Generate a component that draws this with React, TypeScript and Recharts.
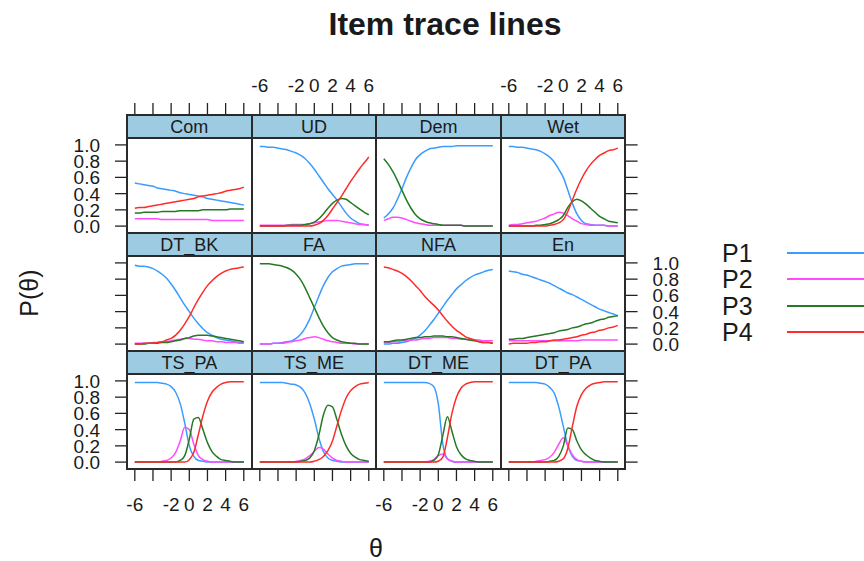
import React from 'react';
import { LineChart, Line, XAxis, YAxis } from 'recharts';

const THETA = [-6, -5.5, -5, -4.5, -4, -3.5, -3, -2.5, -2, -1.5, -1, -0.5, 0, 0.5, 1, 1.5, 2, 2.5, 3, 3.5, 4, 4.5, 5, 5.5, 6];
const THETA_TICKS = [-6, -4, -2, 0, 2, 4, 6];
// lattice drops the -4 label, it would run into its neighbours
const THETA_LABELS = [-6, -2, 0, 2, 4, 6];
const P_TICKS = [0, 0.2, 0.4, 0.6, 0.8, 1];

const Com = {
  P1: [0.53, 0.52, 0.51, 0.50, 0.49, 0.47, 0.46, 0.45, 0.44, 0.43, 0.41, 0.40, 0.39, 0.38, 0.37, 0.36, 0.34, 0.33, 0.32, 0.31, 0.30, 0.29, 0.28, 0.27, 0.26],
  P2: [0.09, 0.09, 0.09, 0.09, 0.09, 0.09, 0.08, 0.08, 0.08, 0.08, 0.08, 0.08, 0.08, 0.08, 0.08, 0.08, 0.08, 0.07, 0.07, 0.07, 0.07, 0.07, 0.07, 0.07, 0.07],
  P3: [0.16, 0.16, 0.17, 0.17, 0.17, 0.17, 0.18, 0.18, 0.18, 0.18, 0.19, 0.19, 0.19, 0.19, 0.19, 0.20, 0.20, 0.20, 0.20, 0.20, 0.20, 0.21, 0.21, 0.21, 0.21],
  P4: [0.22, 0.23, 0.23, 0.24, 0.25, 0.26, 0.27, 0.28, 0.29, 0.30, 0.31, 0.32, 0.33, 0.34, 0.36, 0.37, 0.38, 0.39, 0.40, 0.41, 0.43, 0.44, 0.45, 0.46, 0.48],
};
const UD = {
  P1: [0.98, 0.98, 0.97, 0.97, 0.96, 0.95, 0.94, 0.92, 0.90, 0.87, 0.83, 0.77, 0.70, 0.62, 0.54, 0.46, 0.39, 0.32, 0.24, 0.16, 0.10, 0.06, 0.03, 0.02, 0.01],
  P2: [0.01, 0.01, 0.01, 0.01, 0.01, 0.01, 0.01, 0.02, 0.02, 0.02, 0.02, 0.03, 0.04, 0.05, 0.06, 0.07, 0.07, 0.07, 0.06, 0.05, 0.04, 0.03, 0.02, 0.02, 0.01],
  P3: [0, 0, 0, 0, 0, 0, 0.01, 0.01, 0.01, 0.01, 0.02, 0.03, 0.05, 0.09, 0.15, 0.22, 0.28, 0.32, 0.34, 0.33, 0.29, 0.25, 0.21, 0.17, 0.14],
  P4: [0, 0, 0, 0, 0, 0, 0, 0, 0, 0, 0, 0, 0.01, 0.03, 0.07, 0.13, 0.21, 0.29, 0.37, 0.46, 0.55, 0.63, 0.71, 0.78, 0.85],
};
const Dem = {
  P1: [0.10, 0.15, 0.22, 0.33, 0.46, 0.60, 0.72, 0.82, 0.88, 0.92, 0.95, 0.96, 0.97, 0.98, 0.98, 0.98, 0.99, 0.99, 0.99, 0.99, 0.99, 0.99, 0.99, 0.99, 0.99],
  P2: [0.07, 0.09, 0.11, 0.11, 0.10, 0.08, 0.06, 0.04, 0.03, 0.02, 0.01, 0.01, 0.01, 0.01, 0.01, 0.01, 0.01, 0.01, 0, 0, 0, 0, 0, 0, 0],
  P3: [0.83, 0.76, 0.67, 0.56, 0.44, 0.32, 0.22, 0.14, 0.09, 0.06, 0.04, 0.03, 0.02, 0.01, 0.01, 0.01, 0.01, 0.01, 0, 0, 0, 0, 0, 0, 0],
};
const Wet = {
  P1: [0.98, 0.98, 0.97, 0.97, 0.96, 0.95, 0.94, 0.92, 0.89, 0.85, 0.79, 0.70, 0.60, 0.44, 0.28, 0.15, 0.07, 0.03, 0.02, 0.01, 0.01, 0.01, 0, 0, 0],
  P2: [0.01, 0.02, 0.02, 0.03, 0.04, 0.05, 0.06, 0.08, 0.10, 0.13, 0.15, 0.17, 0.16, 0.13, 0.09, 0.06, 0.03, 0.02, 0.01, 0.01, 0.01, 0.01, 0, 0, 0],
  P3: [0, 0, 0, 0, 0, 0, 0.01, 0.01, 0.02, 0.03, 0.05, 0.08, 0.13, 0.23, 0.30, 0.33, 0.31, 0.27, 0.22, 0.17, 0.12, 0.09, 0.06, 0.05, 0.04],
  P4: [0, 0, 0, 0, 0, 0, 0, 0, 0, 0.01, 0.02, 0.04, 0.08, 0.18, 0.32, 0.46, 0.58, 0.68, 0.76, 0.82, 0.87, 0.90, 0.93, 0.94, 0.96],
};
const DT_BK = {
  P1: [0.97, 0.96, 0.96, 0.95, 0.93, 0.90, 0.86, 0.81, 0.74, 0.66, 0.57, 0.48, 0.40, 0.32, 0.25, 0.19, 0.14, 0.11, 0.08, 0.06, 0.05, 0.04, 0.03, 0.02, 0.02],
  P2: [0.01, 0.01, 0.01, 0.01, 0.02, 0.02, 0.03, 0.03, 0.04, 0.05, 0.06, 0.07, 0.07, 0.06, 0.06, 0.05, 0.04, 0.04, 0.03, 0.03, 0.02, 0.02, 0.02, 0.01, 0.01],
  P3: [0, 0, 0, 0.01, 0.01, 0.01, 0.02, 0.02, 0.03, 0.04, 0.05, 0.07, 0.08, 0.10, 0.11, 0.11, 0.11, 0.10, 0.09, 0.08, 0.07, 0.06, 0.05, 0.04, 0.03],
  P4: [0, 0, 0.01, 0.01, 0.01, 0.02, 0.03, 0.05, 0.07, 0.11, 0.17, 0.25, 0.34, 0.45, 0.55, 0.64, 0.72, 0.78, 0.83, 0.87, 0.90, 0.92, 0.93, 0.94, 0.95],
};
const FA = {
  P1: [0, 0, 0, 0.01, 0.01, 0.02, 0.03, 0.04, 0.07, 0.12, 0.20, 0.31, 0.45, 0.59, 0.72, 0.82, 0.89, 0.93, 0.96, 0.97, 0.98, 0.99, 0.99, 0.99, 0.99],
  P2: [0, 0, 0, 0.01, 0.01, 0.01, 0.02, 0.03, 0.04, 0.05, 0.07, 0.08, 0.09, 0.08, 0.06, 0.04, 0.03, 0.02, 0.01, 0.01, 0.01, 0, 0, 0, 0],
  P3: [0.99, 0.99, 0.99, 0.98, 0.97, 0.96, 0.94, 0.91, 0.86, 0.79, 0.69, 0.57, 0.45, 0.33, 0.22, 0.14, 0.08, 0.05, 0.03, 0.02, 0.01, 0.01, 0, 0, 0],
};
const NFA = {
  P1: [0, 0, 0.01, 0.01, 0.02, 0.03, 0.05, 0.07, 0.11, 0.16, 0.23, 0.30, 0.38, 0.46, 0.54, 0.61, 0.68, 0.73, 0.78, 0.82, 0.85, 0.87, 0.89, 0.91, 0.92],
  P2: [0.02, 0.02, 0.03, 0.03, 0.04, 0.04, 0.05, 0.05, 0.06, 0.07, 0.07, 0.08, 0.08, 0.08, 0.08, 0.07, 0.07, 0.06, 0.06, 0.05, 0.05, 0.05, 0.04, 0.04, 0.04],
  P3: [0.03, 0.03, 0.04, 0.05, 0.05, 0.06, 0.07, 0.08, 0.08, 0.09, 0.09, 0.10, 0.10, 0.10, 0.09, 0.09, 0.08, 0.07, 0.06, 0.05, 0.04, 0.03, 0.02, 0.02, 0.01],
  P4: [0.95, 0.94, 0.92, 0.90, 0.87, 0.83, 0.78, 0.72, 0.66, 0.59, 0.53, 0.48, 0.42, 0.35, 0.28, 0.22, 0.17, 0.13, 0.09, 0.07, 0.05, 0.03, 0.02, 0.02, 0.01],
};
const En = {
  P1: [0.90, 0.89, 0.88, 0.86, 0.85, 0.83, 0.81, 0.79, 0.77, 0.75, 0.72, 0.69, 0.66, 0.63, 0.61, 0.58, 0.55, 0.52, 0.49, 0.46, 0.43, 0.41, 0.39, 0.37, 0.35],
  P2: [0.04, 0.04, 0.04, 0.04, 0.04, 0.04, 0.04, 0.04, 0.04, 0.04, 0.04, 0.04, 0.04, 0.04, 0.04, 0.04, 0.05, 0.05, 0.05, 0.05, 0.05, 0.05, 0.05, 0.05, 0.05],
  P3: [0.06, 0.06, 0.07, 0.07, 0.08, 0.09, 0.10, 0.11, 0.12, 0.13, 0.14, 0.16, 0.17, 0.18, 0.20, 0.21, 0.23, 0.25, 0.26, 0.28, 0.30, 0.31, 0.33, 0.34, 0.35],
  P4: [0, 0.01, 0.01, 0.01, 0.01, 0.02, 0.02, 0.03, 0.03, 0.04, 0.05, 0.05, 0.06, 0.07, 0.08, 0.09, 0.11, 0.12, 0.14, 0.15, 0.17, 0.18, 0.20, 0.21, 0.23],
};
const TS_PA = {
  P1: [0.98, 0.98, 0.98, 0.98, 0.98, 0.98, 0.97, 0.96, 0.93, 0.86, 0.72, 0.48, 0.20, 0.07, 0.02, 0.01, 0, 0, 0, 0, 0, 0, 0, 0, 0],
  P2: [0, 0, 0, 0, 0, 0, 0.01, 0.02, 0.05, 0.12, 0.26, 0.43, 0.40, 0.22, 0.08, 0.03, 0.01, 0, 0, 0, 0, 0, 0, 0, 0],
  P3: [0, 0, 0, 0, 0, 0, 0, 0, 0, 0, 0.02, 0.08, 0.28, 0.53, 0.55, 0.40, 0.24, 0.13, 0.07, 0.03, 0.02, 0.01, 0, 0, 0],
  P4: [0, 0, 0, 0, 0, 0, 0, 0, 0, 0, 0, 0, 0.03, 0.12, 0.34, 0.57, 0.75, 0.86, 0.92, 0.96, 0.98, 0.99, 0.99, 0.99, 0.99],
};
const TS_ME = {
  P1: [0.98, 0.98, 0.98, 0.98, 0.98, 0.98, 0.97, 0.96, 0.95, 0.92, 0.85, 0.72, 0.53, 0.30, 0.13, 0.05, 0.02, 0.01, 0, 0, 0, 0, 0, 0, 0],
  P2: [0, 0, 0, 0, 0, 0, 0, 0, 0.01, 0.02, 0.04, 0.08, 0.13, 0.18, 0.16, 0.10, 0.05, 0.02, 0.01, 0, 0, 0, 0, 0, 0],
  P3: [0, 0, 0, 0, 0, 0, 0, 0, 0, 0.01, 0.02, 0.05, 0.14, 0.33, 0.58, 0.70, 0.68, 0.52, 0.34, 0.20, 0.11, 0.06, 0.03, 0.02, 0.01],
  P4: [0, 0, 0, 0, 0, 0, 0, 0, 0, 0, 0, 0, 0.01, 0.03, 0.07, 0.14, 0.26, 0.45, 0.64, 0.79, 0.88, 0.93, 0.96, 0.97, 0.98],
};
const DT_ME = {
  P1: [0.98, 0.98, 0.98, 0.98, 0.98, 0.98, 0.98, 0.98, 0.98, 0.98, 0.97, 0.93, 0.72, 0.22, 0.04, 0.01, 0, 0, 0, 0, 0, 0, 0, 0, 0],
  P2: [0, 0, 0, 0, 0, 0, 0, 0, 0, 0, 0.01, 0.03, 0.08, 0.10, 0.04, 0.01, 0, 0, 0, 0, 0, 0, 0, 0, 0],
  P3: [0, 0, 0, 0, 0, 0, 0, 0, 0, 0, 0, 0.02, 0.09, 0.33, 0.56, 0.38, 0.19, 0.09, 0.04, 0.02, 0.01, 0, 0, 0, 0],
  P4: [0, 0, 0, 0, 0, 0, 0, 0, 0, 0, 0, 0, 0.01, 0.06, 0.30, 0.60, 0.80, 0.91, 0.96, 0.98, 0.99, 0.99, 0.99, 0.99, 0.99],
};
const DT_PA = {
  P1: [0.98, 0.98, 0.98, 0.98, 0.98, 0.98, 0.98, 0.97, 0.96, 0.92, 0.85, 0.68, 0.44, 0.20, 0.07, 0.02, 0.01, 0, 0, 0, 0, 0, 0, 0, 0],
  P2: [0, 0, 0, 0, 0, 0, 0.01, 0.02, 0.03, 0.06, 0.12, 0.22, 0.30, 0.20, 0.09, 0.03, 0.01, 0, 0, 0, 0, 0, 0, 0, 0],
  P3: [0, 0, 0, 0, 0, 0, 0, 0, 0, 0.01, 0.02, 0.07, 0.20, 0.42, 0.40, 0.26, 0.15, 0.09, 0.05, 0.02, 0.01, 0, 0, 0, 0],
  P4: [0, 0, 0, 0, 0, 0, 0, 0, 0, 0, 0, 0.01, 0.04, 0.17, 0.44, 0.69, 0.83, 0.91, 0.95, 0.97, 0.98, 0.99, 0.99, 0.99, 0.99],
};

// panels in lattice order: left to right, top row first
const ITEMS: { name: string; p: Record<string, number[]> }[] = [
  { name: 'Com', p: Com },
  { name: 'UD', p: UD },
  { name: 'Dem', p: Dem },
  { name: 'Wet', p: Wet },
  { name: 'DT_BK', p: DT_BK },
  { name: 'FA', p: FA },
  { name: 'NFA', p: NFA },
  { name: 'En', p: En },
  { name: 'TS_PA', p: TS_PA },
  { name: 'TS_ME', p: TS_ME },
  { name: 'DT_ME', p: DT_ME },
  { name: 'DT_PA', p: DT_PA },
];

const SERIES = [
  { key: 'P1', color: '#3b9cff' },
  { key: 'P2', color: '#ff4cff' },
  { key: 'P3', color: '#237a23' },
  { key: 'P4', color: '#ff2a2a' },
];

const FONT = '"Liberation Sans", Arial, Helvetica, sans-serif';
const INK = '#1a1a1a';
const STRIP_BG = '#9dcbe2';

const GRID_LEFT = 127;
const PANEL_W = 124.6;
const GRID_TOP = 115;
const ROW_H = 118;
const STRIP_H = 23;
const PLOT_H = ROW_H - STRIP_H;
const AX = 70; // room for axes around every panel
const TICK_LEN = 12;

const X_DOMAIN = [-6.86, 6.86];
const Y_DOMAIN = [-0.085, 1.085];

function topTick(p: any, row: number, col: number) {
  if (row !== 0) return <g />;
  const y0 = p.y - STRIP_H;
  const v = p.payload.value;
  return (
    <g>
      <line x1={p.x} x2={p.x} y1={y0} y2={y0 - TICK_LEN} stroke="#222" strokeWidth={1.3} />
      {col % 2 === 1 && THETA_LABELS.includes(v) && (
        <text x={p.x} y={y0 - 23} textAnchor="middle" fontFamily={FONT} fontSize={19} fill={INK}>{v}</text>
      )}
    </g>
  );
}

function bottomTick(p: any, row: number, col: number) {
  if (row !== 2) return <g />;
  const v = p.payload.value;
  return (
    <g>
      <line x1={p.x} x2={p.x} y1={p.y} y2={p.y + TICK_LEN} stroke="#222" strokeWidth={1.3} />
      {col % 2 === 0 && THETA_LABELS.includes(v) && (
        <text x={p.x} y={p.y + 42} textAnchor="middle" fontFamily={FONT} fontSize={19} fill={INK}>{v}</text>
      )}
    </g>
  );
}

function leftTick(p: any, row: number, col: number) {
  if (col !== 0) return <g />;
  const v = p.payload.value;
  return (
    <g>
      <line x1={p.x} x2={p.x - TICK_LEN} y1={p.y} y2={p.y} stroke="#222" strokeWidth={1.3} />
      {row !== 1 && (
        <text x={p.x - 27} y={p.y + 7} textAnchor="end" fontFamily={FONT} fontSize={19} fill={INK}>{v.toFixed(1)}</text>
      )}
    </g>
  );
}

function rightTick(p: any, row: number, col: number) {
  if (col !== 3) return <g />;
  const v = p.payload.value;
  return (
    <g>
      <line x1={p.x} x2={p.x + TICK_LEN} y1={p.y} y2={p.y} stroke="#222" strokeWidth={1.3} />
      {row === 1 && (
        <text x={p.x + 27} y={p.y + 7} textAnchor="start" fontFamily={FONT} fontSize={19} fill={INK}>{v.toFixed(1)}</text>
      )}
    </g>
  );
}

function Panel({ idx }: { idx: number }) {
  const item = ITEMS[idx];
  const row = Math.floor(idx / 4);
  const col = idx % 4;
  const left = GRID_LEFT + col * PANEL_W;
  const plotTop = GRID_TOP + row * ROW_H + STRIP_H;
  const present = SERIES.filter((s) => item.p[s.key]);
  const data = THETA.map((t, i) => {
    const d: Record<string, number> = { theta: t };
    present.forEach((s) => {
      d[s.key] = item.p[s.key][i];
    });
    return d;
  });
  return (
    <div style={{ position: 'absolute', left: left - AX, top: plotTop - AX }}>
      <LineChart width={PANEL_W + 2 * AX} height={PLOT_H + 2 * AX} data={data} margin={{ top: 0, right: 0, bottom: 0, left: 0 }}>
        <XAxis xAxisId="b" orientation="bottom" type="number" dataKey="theta" domain={X_DOMAIN} ticks={THETA_TICKS}
          height={AX} interval={0} axisLine={false} tickLine={false} tickSize={0} tickMargin={0} allowDataOverflow
          tick={(p: any) => bottomTick(p, row, col)} />
        <XAxis xAxisId="t" orientation="top" type="number" dataKey="theta" domain={X_DOMAIN} ticks={THETA_TICKS}
          height={AX} interval={0} axisLine={false} tickLine={false} tickSize={0} tickMargin={0} allowDataOverflow
          tick={(p: any) => topTick(p, row, col)} />
        <YAxis yAxisId="l" orientation="left" type="number" domain={Y_DOMAIN} ticks={P_TICKS}
          width={AX} interval={0} axisLine={false} tickLine={false} tickSize={0} tickMargin={0} allowDataOverflow
          tick={(p: any) => leftTick(p, row, col)} />
        <YAxis yAxisId="r" orientation="right" type="number" domain={Y_DOMAIN} ticks={P_TICKS}
          width={AX} interval={0} axisLine={false} tickLine={false} tickSize={0} tickMargin={0} allowDataOverflow
          tick={(p: any) => rightTick(p, row, col)} />
        {present.map((s) => (
          <Line key={s.key} xAxisId="b" yAxisId="l" type="monotone" dataKey={s.key} stroke={s.color}
            strokeWidth={1.5} dot={false} activeDot={false} isAnimationActive={false} />
        ))}
      </LineChart>
    </div>
  );
}

export default function App() {
  const colEdges = [0, 1, 2, 3, 4].map((c) => GRID_LEFT + c * PANEL_W);
  const rowEdges: number[] = [];
  [0, 1, 2].forEach((r) => {
    rowEdges.push(GRID_TOP + r * ROW_H, GRID_TOP + r * ROW_H + STRIP_H);
  });
  rowEdges.push(GRID_TOP + 3 * ROW_H);
  const gridBottom = GRID_TOP + 3 * ROW_H;

  return (
    <div style={{ position: 'absolute', left: 0, top: 0, width: 864, height: 561, background: '#fff', overflow: 'hidden', fontFamily: FONT, color: INK }}>
      <div style={{ position: 'absolute', left: 0, top: 4, width: 890, height: 40, lineHeight: '40px', textAlign: 'center', fontSize: 32, fontWeight: 'bold' }}>
        Item trace lines
      </div>

      {ITEMS.map((it, i) => {
        const row = Math.floor(i / 4);
        const col = i % 4;
        return (
          <div key={it.name} style={{
            position: 'absolute', left: GRID_LEFT + col * PANEL_W, top: GRID_TOP + row * ROW_H, width: PANEL_W, height: STRIP_H,
            background: STRIP_BG, display: 'flex', alignItems: 'center', justifyContent: 'center', fontSize: 18, paddingTop: 2, boxSizing: 'border-box',
          }}>
            {it.name}
          </div>
        );
      })}

      {ITEMS.map((it, i) => <Panel key={it.name} idx={i} />)}

      {colEdges.map((x, i) => (
        <div key={'v' + i} style={{ position: 'absolute', left: x - 1, top: GRID_TOP - 1, width: 2, height: gridBottom - GRID_TOP + 2, background: '#2a2a2a' }} />
      ))}
      {rowEdges.map((y, i) => (
        <div key={'h' + i} style={{ position: 'absolute', left: GRID_LEFT - 1, top: y - 1, width: colEdges[4] - GRID_LEFT + 2, height: 2, background: '#2a2a2a' }} />
      ))}

      <div style={{ position: 'absolute', left: -21, top: 278, width: 100, height: 30, lineHeight: '30px', textAlign: 'center', fontSize: 25, transform: 'rotate(-90deg)' }}>
        P(θ)
      </div>
      <div style={{ position: 'absolute', left: 326, top: 533, width: 100, height: 30, lineHeight: '30px', textAlign: 'center', fontSize: 25 }}>
        θ
      </div>

      {SERIES.map((s, i) => {
        const cy = 253 + i * 26.3;
        return (
          <React.Fragment key={s.key}>
            <div style={{ position: 'absolute', left: 722, top: cy - 15, height: 30, lineHeight: '30px', fontSize: 25 }}>{s.key}</div>
            <div style={{ position: 'absolute', left: 787, top: cy - 1, width: 80, height: 2, background: s.color }} />
          </React.Fragment>
        );
      })}
    </div>
  );
}
